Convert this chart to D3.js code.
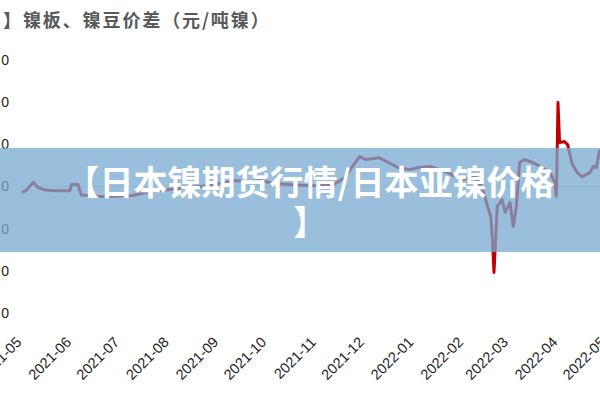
<!DOCTYPE html>
<html><head><meta charset="utf-8">
<script src="https://cdn.jsdelivr.net/npm/d3@7"></script>
<style>
html,body{margin:0;padding:0;background:#fff;overflow:hidden;}
svg{display:block;}
</style></head>
<body>
<svg id="c" width="600" height="400"></svg>
<script>
const titleText = "】镍板、镍豆价差（元/吨镍）";
const bannerLines = ["【日本镍期货行情/日本亚镍价格", "】"];
const monthTicks = ["2021-05","2021-06","2021-07","2021-08","2021-09","2021-10","2021-11","2021-12","2022-01","2022-02","2022-03","2022-04","2022-05"];
const yTicks = [6000, 4000, 2000, 0, -2000, -4000, -6000];
const dates = ["2021-05-01","2021-05-04","2021-05-08","2021-05-11","2021-05-15","2021-05-21","2021-05-28","2021-05-31",
"2021-06-01","2021-06-05","2021-06-07","2021-06-12","2021-06-18","2021-06-25","2021-07-01","2021-07-09","2021-07-12",
"2021-07-20","2021-08-01","2021-08-14","2021-08-26","2021-09-05","2021-09-11","2021-09-20","2021-09-27","2021-10-06",
"2021-10-15","2021-10-25","2021-11-03","2021-11-12","2021-11-19","2021-11-23","2021-11-28","2021-12-02","2021-12-07",
"2021-12-10","2021-12-16","2021-12-22","2021-12-29","2022-01-04","2022-01-11","2022-01-17","2022-01-22","2022-01-27",
"2022-02-01","2022-02-05","2022-02-09","2022-02-13","2022-02-16","2022-02-18","2022-02-19","2022-02-20","2022-02-21",
"2022-02-22","2022-02-25","2022-02-27","2022-03-02","2022-03-04","2022-03-06","2022-03-08","2022-03-11","2022-03-16",
"2022-03-21","2022-03-27","2022-03-30","2022-03-31","2022-04-01","2022-04-02","2022-04-05","2022-04-07","2022-04-10",
"2022-04-13","2022-04-16","2022-04-21","2022-04-23","2022-04-25","2022-04-27"];
const spread = [-300,-150,200,-50,-150,-200,-200,-200,
100,100,-400,-430,-470,-470,-450,-430,-380,
-240,-140,-50,50,190,280,240,280,140,
100,50,50,100,430,900,1420,1280,1330,
1370,1140,900,800,900,950,800,660,470,
330,430,430,-140,-950,-1420,-2510,-4080,-2510,
-950,-620,-1230,-760,-1900,-950,1140,1280,1140,
950,660,190,-470,3980,2090,2130,1990,1040,
660,470,660,950,900,1750];

const parse = d3.timeParse("%Y-%m-%d");
const pm = d3.timeParse("%Y-%m");
const data = dates.map((d,i)=>({date:parse(d), v:spread[i]}));

const svg = d3.select("#c");
const x = d3.scaleTime().domain([pm("2021-05"), pm("2022-05")]).range([22, 606]);
const y = d3.scaleLinear().domain([-6000, 6000]).range([313, 60]);

// title
svg.append("text").attr("x", 3).attr("y", 27)
  .attr("font-family", "'Noto Sans CJK SC', sans-serif").attr("font-weight", "bold")
  .attr("font-size", 18).attr("letter-spacing", 1.9).attr("fill", "#595959").text(titleText);

// y axis labels
const yAxis = d3.axisLeft(y).tickValues(yTicks).tickSize(0).tickPadding(0).tickFormat(d3.format("d"));
const gy = svg.append("g").attr("transform", "translate(9,0)").call(yAxis);
gy.select(".domain").remove();
gy.selectAll("text").attr("font-family", "'Liberation Sans', Arial, sans-serif").attr("font-size", 14)
  .attr("letter-spacing", 1.5).attr("dx", 1.5).attr("fill", "#222");

// zero line
svg.append("line").attr("x1", 20).attr("x2", 600).attr("y1", y(0)).attr("y2", y(0))
  .attr("stroke", "#d9d9d9").attr("stroke-width", 1);

// x axis labels
const xAxis = d3.axisBottom(x).tickValues(monthTicks.map(pm)).tickSize(0).tickFormat(d3.timeFormat("%Y-%m"));
const gx = svg.append("g").attr("transform", "translate(0,343)").call(xAxis);
gx.select(".domain").remove();
gx.selectAll("text").attr("font-family", "'Liberation Sans', Arial, sans-serif").attr("font-size", 14.5).attr("fill", "#222")
  .attr("text-anchor", "end").attr("dy", 0).attr("y", 0).attr("transform", "rotate(-45)");

// line
const line = d3.line().x(d=>x(d.date)).y(d=>y(d.v));
svg.append("path").datum(data).attr("d", line).attr("fill", "none")
  .attr("stroke", "#c00000").attr("stroke-width", 3).attr("stroke-linejoin", "round");

// banner overlay
svg.append("rect").attr("x", 0).attr("y", 148).attr("width", 600).attr("height", 104)
  .attr("fill", "rgb(120,170,210)").attr("fill-opacity", 0.75);
const bt = svg.append("text").attr("text-anchor", "middle")
  .attr("font-family", "'Noto Sans CJK SC', sans-serif").attr("font-weight", "bold")
  .attr("font-size", 34).attr("fill", "#fff");
bannerLines.forEach((t,i)=>{
  bt.append("tspan").attr("x", 310).attr("y", 195 + i*40).text(t);
});
</script>
</body></html>
